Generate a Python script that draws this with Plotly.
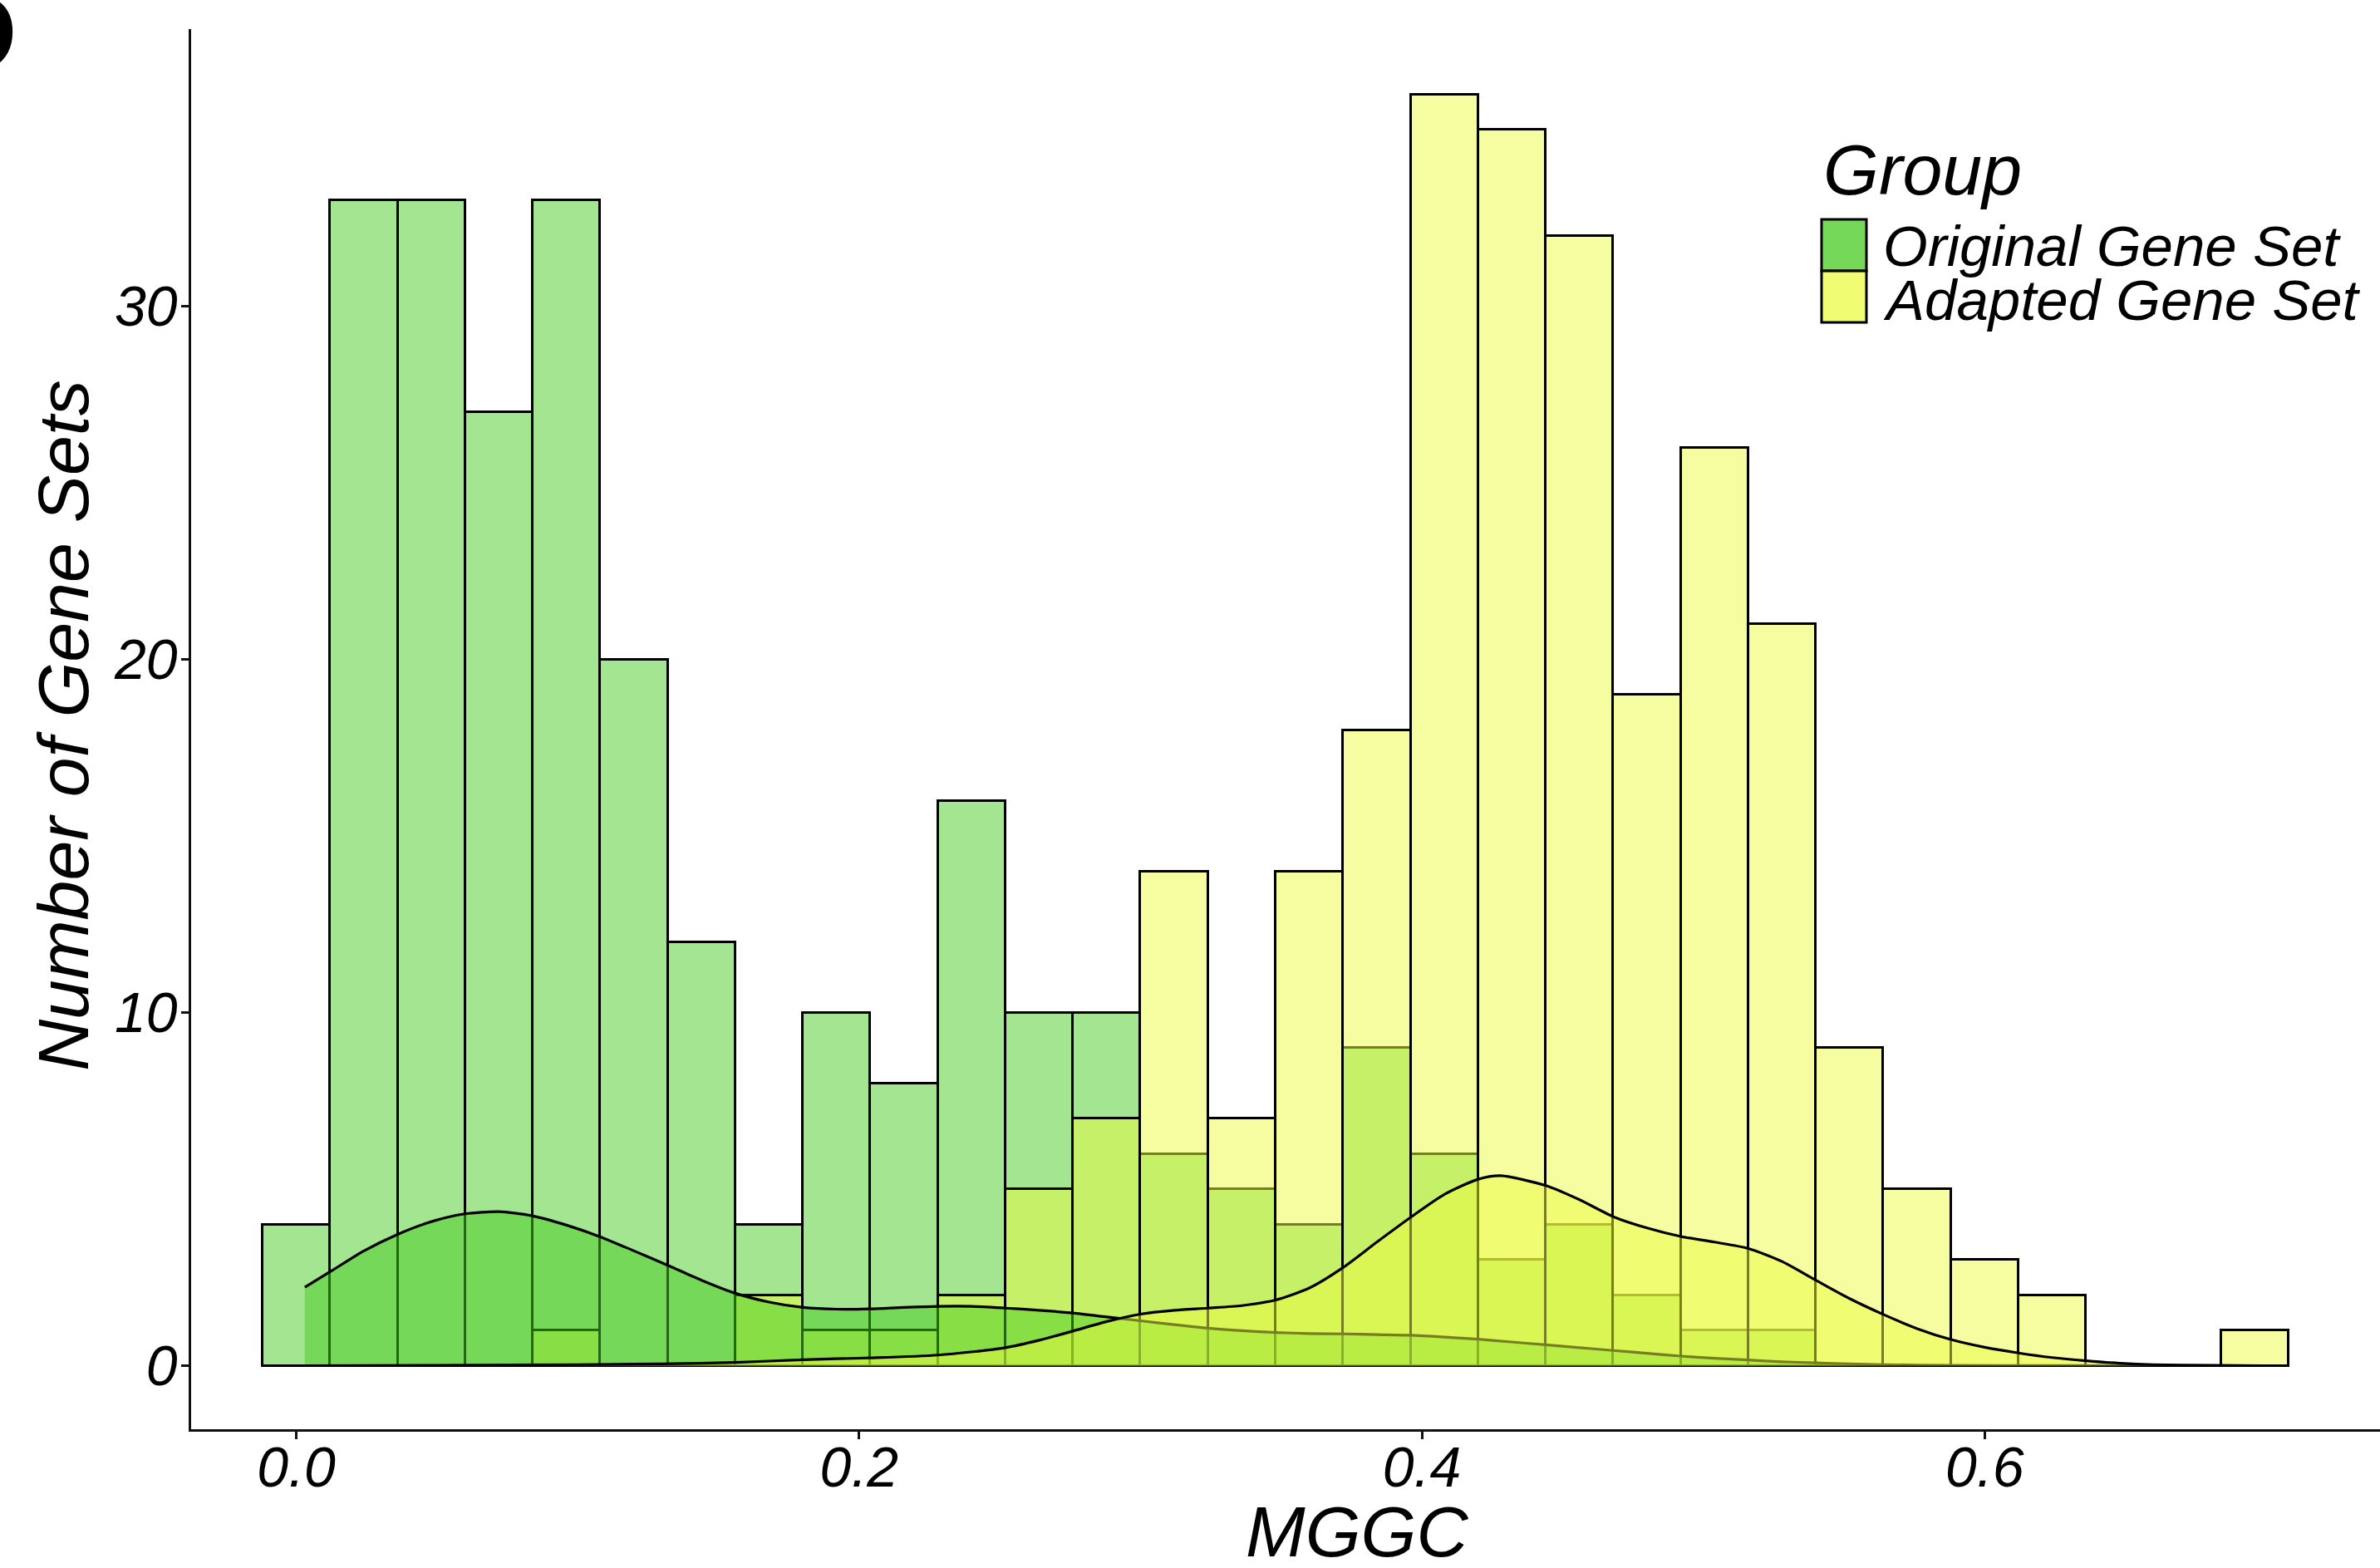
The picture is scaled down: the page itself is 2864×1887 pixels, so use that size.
import plotly.graph_objects as go

# ---------------- data ----------------
groups = ["Original Gene Set", "Adapted Gene Set"]

# histogram bin centres (MGGC)
mggc_bins = [0.000, 0.024, 0.048, 0.072, 0.096, 0.120, 0.144, 0.168, 0.192, 0.216,
             0.240, 0.264, 0.288, 0.312, 0.336, 0.360, 0.384, 0.408, 0.432, 0.456,
             0.480, 0.504, 0.528, 0.552, 0.576, 0.600, 0.624, 0.648, 0.672, 0.696]
original_counts = [4, 33, 33, 27, 33, 20, 12, 4, 10, 8,
                   16, 10, 10, 6, 5, 4, 9, 6, 3, 4,
                   2, 1, 1, 0, 0, 0, 0, 0, 0, 0]
adapted_counts = [0, 0, 0, 0, 1, 0, 0, 2, 1, 1,
                  2, 5, 7, 14, 7, 14, 18, 36, 35, 32,
                  19, 26, 21, 9, 5, 3, 2, 0, 0, 1]

# density curves
original_density_x = [0.003, 0.012, 0.024, 0.036, 0.048, 0.060, 0.072, 0.084, 0.096, 0.108,
                      0.120, 0.132, 0.144, 0.156, 0.168, 0.180, 0.192, 0.204, 0.216, 0.228,
                      0.240, 0.252, 0.264, 0.276, 0.288, 0.300, 0.312, 0.324, 0.336, 0.348,
                      0.360, 0.372, 0.384, 0.396, 0.408, 0.420, 0.432, 0.444, 0.456, 0.468,
                      0.480, 0.492, 0.504, 0.516, 0.528, 0.540, 0.552, 0.564, 0.588, 0.620,
                      0.699]
original_density_y = [2.22, 2.66, 3.25, 3.72, 4.08, 4.30, 4.36, 4.24, 3.98, 3.65,
                      3.25, 2.84, 2.42, 2.05, 1.80, 1.65, 1.60, 1.61, 1.65, 1.68,
                      1.68, 1.63, 1.57, 1.49, 1.38, 1.27, 1.16, 1.06, 0.99, 0.94,
                      0.91, 0.90, 0.88, 0.86, 0.81, 0.75, 0.67, 0.59, 0.51, 0.43,
                      0.35, 0.27, 0.21, 0.16, 0.11, 0.08, 0.05, 0.03, 0.01, 0.005,
                      0.0]
adapted_density_x = [0.003, 0.050, 0.100, 0.130, 0.156, 0.180, 0.204, 0.228, 0.252, 0.264,
                     0.276, 0.288, 0.300, 0.312, 0.324, 0.336, 0.348, 0.360, 0.372, 0.384,
                     0.396, 0.408, 0.420, 0.428, 0.444, 0.456, 0.468, 0.480, 0.492, 0.504,
                     0.516, 0.528, 0.540, 0.552, 0.564, 0.576, 0.588, 0.600, 0.612, 0.624,
                     0.636, 0.648, 0.660, 0.680, 0.699]
adapted_density_y = [0.00, 0.01, 0.03, 0.05, 0.09, 0.17, 0.22, 0.30, 0.51, 0.72,
                     0.98, 1.25, 1.46, 1.57, 1.63, 1.70, 1.86, 2.20, 2.78, 3.50,
                     4.20, 4.85, 5.28, 5.38, 5.10, 4.70, 4.22, 3.90, 3.66, 3.50,
                     3.32, 2.95, 2.42, 1.90, 1.45, 1.05, 0.74, 0.52, 0.36, 0.23,
                     0.14, 0.07, 0.03, 0.01, 0.00]

x_ticks = [0.0, 0.2, 0.4, 0.6]
x_tick_labels = ["0.0", "0.2", "0.4", "0.6"]
y_ticks = [0, 10, 20, 30]
y_tick_labels = ["0", "10", "20", "30"]

# ---------------- layout geometry ----------------
W, H = 2864, 1887
L, R, T, B = 230, 0, 35, 167
PW, PH = W - L - R, H - T - B


def px(x):
    return (x - L) / PW


def py(y):
    return (H - B - y) / PH


GREEN = (71, 203, 33)
YELLOW = (235, 251, 65)


def rgba(c, a):
    return f"rgba({c[0]},{c[1]},{c[2]},{a})"


FONT = "Liberation Sans, Arial, Helvetica, sans-serif"

fig = go.Figure()

for counts, col, name in [(original_counts, GREEN, groups[0]),
                          (adapted_counts, YELLOW, groups[1])]:
    fig.add_trace(go.Bar(
        x=mggc_bins, y=counts, width=0.024, name=name,
        marker=dict(color=rgba(col, 0.5), line=dict(color="black", width=3)),
        showlegend=False, hoverinfo="x+y+name"))

for dx, dy, col, name in [(original_density_x, original_density_y, GREEN, groups[0]),
                          (adapted_density_x, adapted_density_y, YELLOW, groups[1])]:
    fig.add_trace(go.Scatter(
        x=dx, y=dy, mode="lines", name=name, fill="tozeroy",
        fillcolor=rgba(col, 0.5),
        line=dict(color="black", width=3.2, shape="spline", smoothing=0.7),
        showlegend=False))

axis_common = dict(
    showline=True, linecolor="#111111", linewidth=2.6,
    ticks="outside", ticklen=9, tickwidth=2.6, tickcolor="#111111",
    showgrid=False, zeroline=False, automargin=False,
    tickfont=dict(family=FONT, size=68, color="black", style="italic"),
)

fig.update_layout(
    width=W, height=H,
    margin=dict(l=L, r=R, t=T, b=B, pad=0, autoexpand=False),
    paper_bgcolor="white", plot_bgcolor="white",
    barmode="overlay", bargap=0,
    xaxis=dict(range=[-0.0374, 0.7405], tickvals=x_ticks, ticktext=x_tick_labels,
               ticklabelstandoff=-24, **axis_common),
    yaxis=dict(range=[-1.8, 37.85], tickvals=y_ticks, ticktext=y_tick_labels,
               ticklabelstandoff=-9, **axis_common),
    showlegend=False,
)

ann = []
# axis titles
ann.append(dict(text="<i>MGGC</i>", x=px(1633), y=py(1843), xref="paper", yref="paper",
                xanchor="center", yanchor="middle", showarrow=False,
                font=dict(family=FONT, size=86, color="black")))
ann.append(dict(text="<i>Number of Gene Sets</i>", x=px(76), y=py(873), xref="paper",
                yref="paper", xanchor="center", yanchor="middle", showarrow=False,
                textangle=-90, font=dict(family=FONT, size=86, color="black")))
# legend
ann.append(dict(text="<i>Group</i>", x=px(2192), y=py(204), xref="paper", yref="paper",
                xanchor="left", yanchor="middle", showarrow=False,
                font=dict(family=FONT, size=86, color="black")))
ann.append(dict(text="<i>" + groups[0] + "</i>", x=px(2264), y=py(296), xref="paper",
                yref="paper", xanchor="left", yanchor="middle", showarrow=False,
                font=dict(family=FONT, size=69, color="black")))
ann.append(dict(text="<i>" + groups[1] + "</i>", x=px(2264), y=py(361), xref="paper",
                yref="paper", xanchor="left", yanchor="middle", showarrow=False,
                font=dict(family=FONT, size=69, color="black")))
# panel letter (cut off at the left edge)
ann.append(dict(text="<b>D</b>", x=px(23), y=py(38), xref="paper", yref="paper",
                xanchor="right", yanchor="middle", showarrow=False,
                font=dict(family=FONT, size=134, color="black")))

shapes = [
    dict(type="rect", xref="paper", yref="paper", x0=px(2192), x1=px(2246),
         y0=py(326), y1=py(264), fillcolor=rgba(GREEN, 0.75),
         line=dict(color="black", width=3)),
    dict(type="rect", xref="paper", yref="paper", x0=px(2192), x1=px(2246),
         y0=py(388), y1=py(326), fillcolor=rgba(YELLOW, 0.75),
         line=dict(color="black", width=3)),
]
fig.update_layout(annotations=ann, shapes=shapes)

fig.write_html("out.html", config={"displayModeBar": False},
               post_script="document.body.style.margin='0';document.body.style.overflow='hidden';")
